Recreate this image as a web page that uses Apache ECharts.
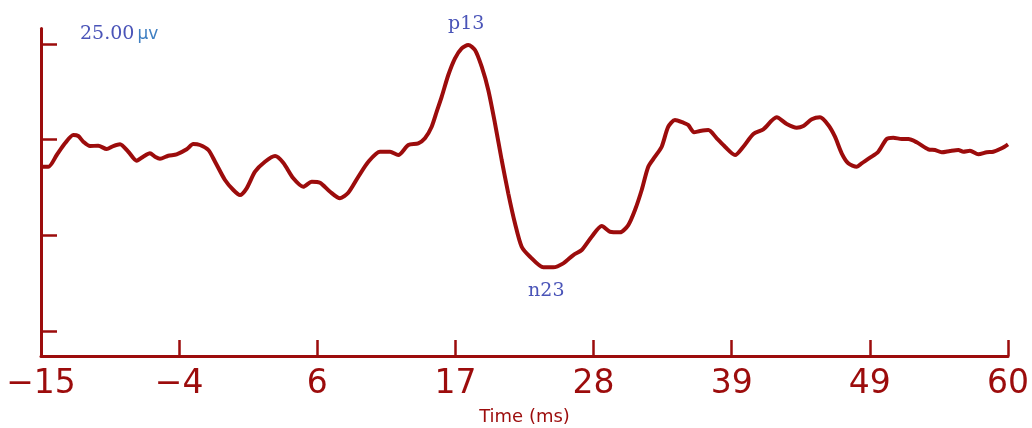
<!DOCTYPE html>
<html>
<head>
<meta charset="utf-8">
<script src="https://cdn.jsdelivr.net/npm/echarts@6/dist/echarts.min.js"></script>
<style>html,body{margin:0;padding:0;background:#fff}#c{width:1032px;height:428px}</style>
</head>
<body>
<div id="c"></div>
<script>
// Time (ms)
const timeMs = [-15,-14.43,-13.78,-13.14,-12.49,-12.11,-11.72,-11.20,-10.56,-9.91,-9.39,-8.87,-8.23,-7.58,-7.07,-6.55,-6.16,-5.77,-5.13,-4.48,-3.70,-3.19,-2.67,-2.02,-1.50,-0.73,-0.08,0.43,0.95,1.60,2.37,3.15,3.79,4.57,5.34,6.00,6.64,7.42,8.19,8.83,9.61,10.39,11.29,12.07,12.71,13.49,14.26,14.78,15.30,15.69,16.08,16.59,17.11,17.63,18.14,18.66,19.18,19.69,20.21,20.73,21.24,21.76,22.28,22.93,23.96,24.73,25.51,26.29,26.94,27.71,28.49,29.13,29.91,30.55,31.07,31.59,32.10,32.62,33.14,33.65,34.17,34.82,35.20,35.65,36.11,36.76,37.41,38.05,38.83,39.47,40.25,41.02,42.06,42.84,43.61,44.13,44.78,45.42,46.06,46.58,47.10,47.61,48.27,48.65,49.30,49.94,50.59,51.10,51.76,52.27,52.92,53.82,54.34,54.86,55.50,56.15,56.54,57.05,57.70,58.35,58.86,59.51,60];
// Amplitude (µV)
const amplitude = [-7.06,-7.06,-4.00,-0.94,1.23,0.97,-0.52,-1.65,-1.57,-2.43,-1.65,-1.20,-3.14,-5.49,-4.44,-3.55,-4.44,-4.96,-4.18,-3.82,-2.51,-1.12,-1.38,-2.69,-5.75,-10.53,-13.14,-14.45,-12.70,-8.36,-5.75,-4.26,-6.01,-10.09,-12.28,-10.97,-11.24,-13.59,-15.31,-13.85,-9.67,-5.75,-3.14,-3.14,-4.00,-1.38,-0.94,0.37,3.40,7.32,11.24,16.91,21.27,23.88,24.75,23.44,19.07,12.99,4.29,-5.30,-14.01,-21.84,-27.96,-30.57,-33.34,-33.34,-32.30,-30.13,-28.82,-25.35,-22.55,-24.04,-24.20,-22.29,-18.37,-13.14,-7.06,-4.44,-1.83,3.40,5.15,4.44,3.84,1.93,2.27,2.53,0.37,-1.83,-4.00,-1.83,1.49,2.72,5.85,4.10,3.14,3.58,5.33,5.85,3.84,0.78,-3.55,-6.17,-7.06,-6.17,-4.70,-3.14,0.18,0.52,0.18,0.18,-0.68,-2.51,-2.69,-3.29,-2.95,-2.69,-3.14,-2.87,-3.82,-3.29,-3.14,-2.25,-1.20];
const xTickLabels = ['\u221215','\u22124','6','17','28','39','49','60'];
const yTickValues = [-50,-25,0,25];
const peakNames = ['p13','n23'];
const scaleLabel = '25.00';
const scaleUnit = '\u00b5v';

const xMin = -15, xMax = 60, yMin = -56.5, yMax = 29.05;
const step = (xMax - xMin) / (xTickLabels.length - 1);
const xTickPos = xTickLabels.map((_, i) => xMin + i * step);
const seriesData = timeMs.map((t, i) => [t, amplitude[i]]);
let iMax = 0, iMin = 0;
amplitude.forEach((v, i) => { if (v > amplitude[iMax]) iMax = i; if (v < amplitude[iMin]) iMin = i; });

const RED = '#9c0c0c';
const BLUE = '#4a54b8';
const chart = echarts.init(document.getElementById('c'), null, {renderer: 'canvas'});
chart.setOption({
  animation: false,
  backgroundColor: '#ffffff',
  grid: {left: 41, right: 24, top: 28.5, bottom: 72, containLabel: false, outerBoundsMode: 'none'},
  xAxis: {
    type: 'value', min: xMin, max: xMax,
    name: 'Time (ms)', nameLocation: 'middle', nameGap: 52,
    nameTextStyle: {fontFamily: 'DejaVu Sans', fontSize: 18, color: RED},
    axisLine: {onZero: false, lineStyle: {color: RED, width: 3}},
    axisTick: {inside: true, length: 16, lineStyle: {color: RED, width: 2.5}, customValues: xTickPos},
    axisLabel: {
      customValues: xTickPos, margin: 12,
      fontFamily: 'DejaVu Sans', fontSize: 33, color: RED,
      formatter: (v) => { const i = Math.round((v - xMin) / step); return xTickLabels[i]; }
    },
    splitLine: {show: false}
  },
  yAxis: {
    type: 'value', min: yMin, max: yMax,
    axisLine: {show: true, onZero: false, lineStyle: {color: RED, width: 3}},
    axisTick: {show: true, inside: true, length: 16, lineStyle: {color: RED, width: 2.5}, customValues: yTickValues},
    axisLabel: {show: false},
    splitLine: {show: false}
  },
  graphic: [{
    type: 'text', left: 80, top: 25,
    style: {
      text: '{a|' + scaleLabel + '}{b|' + scaleUnit + '}',
      rich: {
        a: {fontFamily: 'DejaVu Serif', fontSize: 19, fill: BLUE},
        b: {fontFamily: 'DejaVu Sans', fontSize: 17, fill: '#3f7fc2', padding: [0,0,0,3]}
      }
    }
  }],
  series: [{
    type: 'line', data: seriesData, showSymbol: false, smooth: 0.25,
    lineStyle: {color: RED, width: 4},
    markPoint: {
      symbol: 'circle', symbolSize: 0,
      label: {show: true, fontFamily: 'DejaVu Serif', fontSize: 19, color: BLUE},
      data: [
        {coord: seriesData[iMax], label: {formatter: peakNames[0], offset: [-2, -21]}},
        {coord: seriesData[iMin], label: {formatter: peakNames[1], offset: [3, 24]}}
      ]
    }
  }]
});
</script>
</body>
</html>
